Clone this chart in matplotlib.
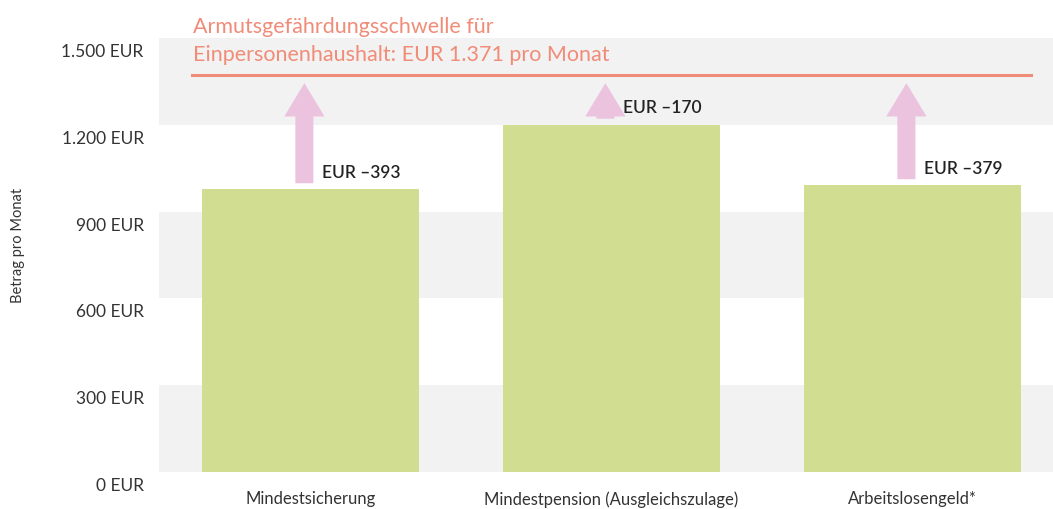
import matplotlib
matplotlib.use('Agg')
import matplotlib.pyplot as plt
from matplotlib.transforms import ScaledTranslation

plt.rcParams['font.family'] = ['Lato', 'DejaVu Sans']

categories = ['Mindestsicherung', 'Mindestpension (Ausgleichszulage)', 'Arbeitslosengeld*']
values = [978, 1201, 992]
schwelle = 1371
gaps = [schwelle - v for v in values]  # 393, 170, 379
yticks = [0, 300, 600, 900, 1200, 1500]
ytick_labels = ['0 EUR', '300 EUR', '600 EUR', '900 EUR', '1.200 EUR', '1.500 EUR']

bar_color = '#d1de92'
arrow_color = '#ecc3de'
line_color = '#f08c78'
band_color = '#f2f2f2'

fig = plt.figure(figsize=(10.53, 5.09), dpi=100)
ax = fig.add_axes([159/1053, 1 - 472/509, 1 - 159/1053, (472 - 38)/509])

# grey bands
for lo in [0, 600, 1200]:
    ax.axhspan(lo, lo + 300, color=band_color, lw=0, zorder=0)

x = list(range(len(categories)))
ax.bar(x, values, width=0.72, color=bar_color, zorder=2)

# threshold line
ax.plot([-0.395, 2.395], [schwelle, schwelle], color=line_color, lw=2.2, zorder=3)
ax.text(-0.39, 1408, 'Armutsgefährdungsschwelle für\nEinpersonenhaushalt: EUR 1.371 pro Monat',
        color=line_color, fontsize=15.5, ha='left', va='bottom', linespacing=1.45, clip_on=False)

# arrows from bar top up to the line
for i, (v, g) in enumerate(zip(values, gaps)):
    xa = i - 0.02
    base = v + 20
    tip = schwelle - 27
    ax.annotate('', xy=(xa, tip), xytext=(xa, base),
                arrowprops=dict(facecolor=arrow_color, edgecolor='none',
                                width=13, headwidth=29, headlength=24, shrink=0),
                zorder=3)
    ax.text(xa + 0.06, base + 8, 'EUR –%d' % g, fontsize=12.5, fontweight='semibold',
            color='#222222', ha='left', va='bottom', zorder=4)

ax.set_xlim(-0.503, 2.467)
ax.set_ylim(0, 1500)
ax.set_yticks(yticks)
ax.set_yticklabels(ytick_labels)
ax.set_xticks(x)
ax.set_xticklabels(categories)
ax.tick_params(axis='y', length=0, pad=11, labelsize=12.5, labelcolor='#333333')
ax.tick_params(axis='x', length=0, pad=14, labelsize=12, labelcolor='#333333')
for lab in ax.get_yticklabels():
    lab.set_transform(lab.get_transform() + ScaledTranslation(0, -9/72, fig.dpi_scale_trans))
for s in ax.spines.values():
    s.set_visible(False)

fig.text(18/1053, 1 - 245/509, 'Betrag pro Monat', rotation=90, ha='center', va='center',
         fontsize=10.5, color='#333333')

fig.savefig('out.png', dpi=100)
